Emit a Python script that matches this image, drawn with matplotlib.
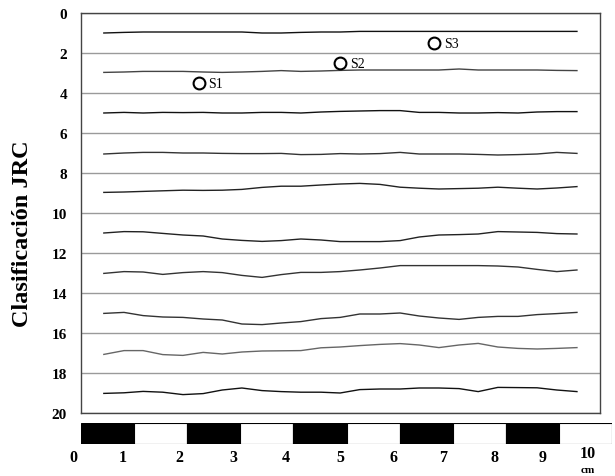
"""
Perfiles de rugosidad JRC (Barton) con posición de las muestras S1-S3.
"""
import matplotlib
matplotlib.use("Agg")
import matplotlib.pyplot as plt
from matplotlib.patches import Rectangle
from matplotlib.transforms import blended_transform_factory

SERIF = ["Liberation Serif", "DejaVu Serif"]

# posiciones a lo largo del perfil (cm)
x_cm = [0.43, 0.81, 1.17, 1.54, 1.92, 2.30, 2.66, 3.03, 3.41, 3.77, 4.14, 4.52, 4.88,
        5.25, 5.63, 6.01, 6.37, 6.74, 7.12, 7.48, 7.85, 8.23, 8.59, 8.96, 9.34]

# línea base de cada perfil en el eje JRC
jrc_base = [1, 3, 5, 7, 9, 11, 13, 15, 17, 19]

# desviación de cada perfil respecto a su base (unidades del eje, + hacia abajo)
dev_01 = [0.00, -0.03, -0.05, -0.05, -0.05, -0.05, -0.05, -0.05, 0.00, 0.00, -0.03, -0.05, -0.05,
          -0.08, -0.08, -0.08, -0.08, -0.08, -0.08, -0.08, -0.08, -0.08, -0.08, -0.08, -0.08]
dev_03 = [-0.03, -0.05, -0.08, -0.08, -0.08, -0.05, -0.03, -0.05, -0.08, -0.12, -0.08, -0.10, -0.13,
          -0.15, -0.15, -0.15, -0.15, -0.15, -0.20, -0.15, -0.15, -0.15, -0.15, -0.13, -0.12]
dev_05 = [0.00, -0.03, 0.00, -0.03, -0.02, -0.03, 0.00, 0.00, -0.03, -0.03, 0.00, -0.05, -0.08,
          -0.10, -0.12, -0.12, -0.03, -0.03, 0.00, 0.00, -0.02, 0.00, -0.05, -0.07, -0.07]
dev_07 = [0.05, 0.00, -0.03, -0.03, 0.00, 0.00, 0.02, 0.03, 0.03, 0.02, 0.08, 0.07, 0.03,
          0.05, 0.03, -0.03, 0.05, 0.05, 0.05, 0.07, 0.10, 0.08, 0.05, -0.03, 0.02]
dev_09 = [-0.03, -0.05, -0.08, -0.11, -0.14, -0.13, -0.14, -0.18, -0.28, -0.34, -0.34, -0.40, -0.45,
          -0.48, -0.43, -0.29, -0.24, -0.20, -0.22, -0.24, -0.29, -0.24, -0.20, -0.25, -0.32]
dev_11 = [0.00, -0.07, -0.06, 0.02, 0.10, 0.15, 0.30, 0.37, 0.42, 0.38, 0.30, 0.35, 0.43,
          0.43, 0.43, 0.38, 0.20, 0.10, 0.08, 0.05, -0.07, -0.05, -0.03, 0.03, 0.05]
dev_13 = [0.02, -0.07, -0.05, 0.07, -0.02, -0.07, -0.02, 0.12, 0.22, 0.08, -0.03, -0.03, -0.07,
          -0.15, -0.25, -0.37, -0.37, -0.37, -0.37, -0.37, -0.35, -0.30, -0.18, -0.07, -0.15]
dev_15 = [0.02, -0.03, 0.13, 0.20, 0.22, 0.30, 0.35, 0.55, 0.58, 0.50, 0.43, 0.28, 0.22,
          0.05, 0.05, 0.00, 0.15, 0.25, 0.32, 0.22, 0.17, 0.17, 0.08, 0.03, -0.03]
dev_17 = [0.07, -0.12, -0.12, 0.08, 0.12, -0.03, 0.05, -0.05, -0.10, -0.11, -0.12, -0.26, -0.30,
          -0.37, -0.43, -0.47, -0.40, -0.27, -0.40, -0.48, -0.30, -0.23, -0.20, -0.23, -0.27]
dev_19 = [0.02, -0.01, -0.08, -0.04, 0.08, 0.03, -0.15, -0.25, -0.12, -0.07, -0.04, -0.04, 0.00,
          -0.17, -0.20, -0.20, -0.25, -0.25, -0.22, -0.07, -0.28, -0.27, -0.26, -0.15, -0.07]
profiles = [dev_01, dev_03, dev_05, dev_07, dev_09, dev_11, dev_13, dev_15, dev_17, dev_19]
profile_colors = ["#111111", "#444444", "#111111", "#333333", "#222222",
                  "#222222", "#333333", "#333333", "#666666", "#111111"]

# muestras
sample_names = ["S1", "S2", "S3"]
sample_x = [2.22, 4.88, 6.65]
sample_jrc = [3.5, 2.5, 1.5]

y_ticks = [0, 2, 4, 6, 8, 10, 12, 14, 16, 18, 20]
scale_labels = ["0", "1", "2", "3", "4", "5", "6", "7", "8", "9", "10"]
scale_label_x = [-0.15, 0.79, 1.86, 2.86, 3.86, 4.88, 5.88, 6.82, 7.78, 8.70, 9.55]

fig = plt.figure(figsize=(6.15, 4.77), dpi=100)
ax = fig.add_axes([81 / 615, 63 / 477, 519 / 615, 400 / 477])

for base, dev, col in zip(jrc_base, profiles, profile_colors):
    ax.plot(x_cm, [base + d for d in dev], color=col, lw=1.0)

ax.plot(sample_x, sample_jrc, "o", ms=8.5, mfc="white", mec="black", mew=1.5, ls="none")
for name, sx, sy in zip(sample_names, sample_x, sample_jrc):
    ax.annotate(name, (sx, sy), xytext=(7, 0), textcoords="offset points",
                va="center", ha="left", fontsize=10, family=SERIF)

ax.set_xlim(0, 519 / 53.1)
ax.set_ylim(20, 0)
ax.set_xticks([])
ax.set_yticks(y_ticks)
ax.set_yticklabels([str(t) for t in y_ticks], family=SERIF, fontweight="bold", fontsize=11)
ax.tick_params(axis="y", length=0, pad=10)
ax.grid(axis="y", color="#9a9a9a", lw=1.0)
for s in ax.spines.values():
    s.set_color("#444444")
    s.set_linewidth(1.0)
ax.set_ylabel("Clasificación JRC", family=SERIF, fontweight="bold", fontsize=17.5)
ax.yaxis.set_label_coords(-0.092, 0.45)

# barra de escala
bar = fig.add_axes([81 / 615, 32 / 477, 531 / 615, 21 / 477])
for i in range(10):
    bar.add_patch(Rectangle((i, 0), 1, 1, facecolor="black" if i % 2 == 0 else "white",
                            edgecolor="black", lw=0.8))
bar.set_xlim(0, 10)
bar.set_ylim(0, 1)
bar.axis("off")
tr = blended_transform_factory(bar.transData, bar.transAxes)
for lab, lx in zip(scale_labels, scale_label_x):
    ly = -0.45 if lab == "10" else -0.62
    bar.text(lx, ly, lab, transform=tr, ha="center", va="center",
             family=SERIF, fontweight="bold", fontsize=11.5)
bar.text(scale_label_x[-1], -1.22, "cm", transform=tr, ha="center", va="center",
         family=SERIF, fontweight="bold", fontsize=8)

fig.savefig("out.png", dpi=100)
